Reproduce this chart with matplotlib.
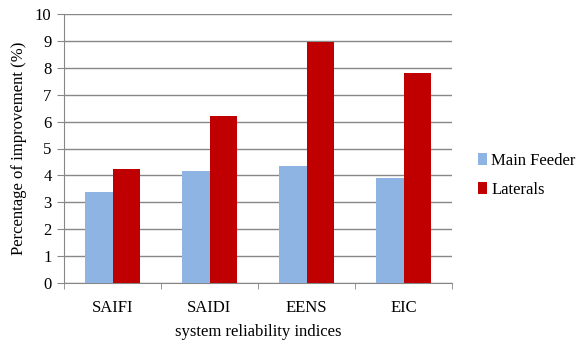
import matplotlib
matplotlib.use("Agg")
import matplotlib.pyplot as plt
import numpy as np

categories = ["SAIFI", "SAIDI", "EENS", "EIC"]
main_feeder = [3.39, 4.17, 4.36, 3.92]
laterals = [4.24, 6.22, 8.95, 7.82]

plt.rcParams["font.family"] = "Liberation Serif"
plt.rcParams["font.size"] = 12

fig = plt.figure(figsize=(5.76, 3.41), dpi=100)
ax = fig.add_axes([64/576, 1 - 283/341, (452 - 64)/576, (283 - 14)/341])

x = np.arange(len(categories))
w = 0.2857
ax.bar(x - w/2, main_feeder, w, color="#8EB4E3", label="Main Feeder", zorder=3)
ax.bar(x + w/2, laterals, w, color="#C00000", label="Laterals", zorder=3)

ax.set_xlim(-0.5, len(categories) - 0.5)
ax.set_ylim(0, 10)
ax.set_yticks(range(0, 11))
ax.grid(axis="y", color="#878787", linewidth=1, zorder=0)

ax.set_xticks(x)
ax.set_xticklabels(categories)
ax.set_xticks(np.arange(-0.5, len(categories)), minor=True)
ax.tick_params(axis="x", which="major", length=0, pad=12)
ax.tick_params(axis="x", which="minor", length=4, color="#878787")
ax.tick_params(axis="y", length=5, color="#878787", pad=4)

for side in ["top", "right"]:
    ax.spines[side].set_visible(False)
ax.spines["left"].set_color("#878787")
ax.spines["bottom"].set_color("#878787")

ax.set_ylabel("Percentage of improvement (%)", labelpad=6)
ax.set_xlabel("system reliability indices", labelpad=6)

ax.legend(loc="center left", bbox_to_anchor=(1.045, 0.40), frameon=False,
          handlelength=0.55, handleheight=0.7, handletextpad=0.25,
          labelspacing=0.8, borderpad=0)

fig.savefig("out.png", dpi=100)
